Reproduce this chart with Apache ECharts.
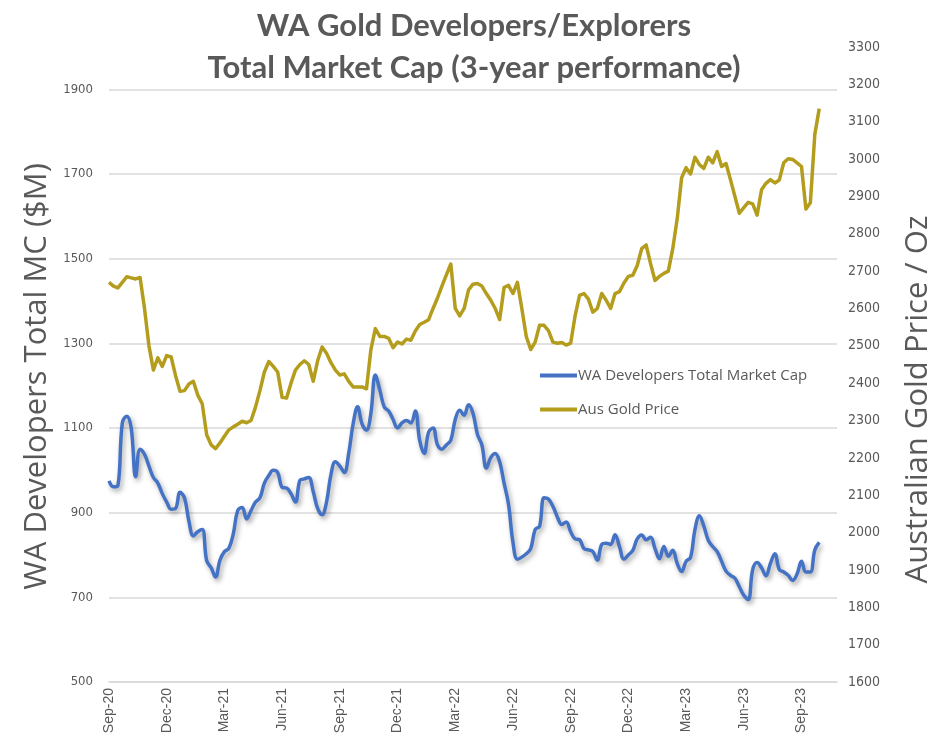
<!DOCTYPE html>
<html>
<head>
<meta charset="utf-8">
<title>WA Gold Developers/Explorers</title>
<script src="https://cdn.jsdelivr.net/npm/echarts@6/dist/echarts.min.js"></script>
<style>
  html, body { margin: 0; padding: 0; background: #fff; }
  #main { width: 948px; height: 740px; }
</style>
</head>
<body>
<div id="main"></div>
<script>
// 坐标轴标签 (每13周一个)
const quarterLabels = ['Sep-20','Dec-20','Mar-21','Jun-21','Sep-21','Dec-21','Mar-22',
  'Jun-22','Sep-22','Dec-22','Mar-23','Jun-23','Sep-23'];

// 周数据: WA developers total market cap ($M)
const waMarketCap = [
  975, 961, 964, 1112, 1128, 1100, 985, 1050, 1038, 1010,
  983, 970, 945, 925, 908, 910, 948, 935, 880, 845,
  855, 860, 787, 770, 748, 788, 808, 816, 850, 905,
  912, 885, 905, 925, 935, 970, 988, 1000, 995, 960,
  958, 945, 925, 976, 980, 983, 950, 910, 895, 925,
  990, 1020, 1010, 995, 1040, 1110, 1150, 1110, 1095, 1135,
  1225, 1190, 1150, 1140, 1120, 1100, 1112, 1118, 1112, 1140,
  1070, 1040, 1090, 1100, 1060, 1050, 1060, 1071, 1120, 1142,
  1130, 1155, 1135, 1085, 1060, 1005, 1030, 1040, 1020, 970,
  920, 830, 790, 795, 803, 815, 860, 868, 935, 932,
  915, 890, 872, 878, 855, 838, 836, 815, 812, 808,
  788, 825, 828, 825, 848, 820, 790, 800, 811, 838,
  847, 836, 842, 815, 791, 820, 797, 811, 780, 761,
  785, 794, 860, 893, 868, 835, 820, 808, 785, 762,
  752, 745, 725, 705, 695, 765, 782, 770, 751, 780,
  803, 766, 760, 752, 740, 755, 785, 760, 760, 812,
  830
];

// 周数据: Aus gold price (A$/oz)
const ausGoldPrice = [
  2670, 2660, 2655, 2670, 2685, 2682, 2679, 2683, 2600, 2500,
  2435, 2468, 2445, 2474, 2470, 2420, 2378, 2380, 2398, 2405,
  2368, 2345, 2262, 2235, 2225, 2240, 2258, 2275, 2283, 2290,
  2298, 2294, 2300, 2336, 2380, 2430, 2458, 2445, 2430, 2362,
  2360, 2400, 2435, 2450, 2460, 2450, 2405, 2460, 2497, 2480,
  2455, 2435, 2422, 2425, 2405, 2390, 2390, 2390, 2385, 2490,
  2546, 2525, 2525, 2520, 2495, 2510, 2505, 2518, 2515, 2540,
  2557, 2563, 2570, 2600, 2628, 2660, 2690, 2719, 2600, 2580,
  2600, 2650, 2665, 2667, 2660, 2640, 2622, 2600, 2570, 2656,
  2662, 2640, 2670, 2600, 2525, 2490, 2510, 2555, 2555, 2541,
  2510, 2507, 2509, 2502, 2507, 2580, 2635, 2640, 2625, 2590,
  2600, 2640, 2622, 2600, 2640, 2645, 2668, 2686, 2689, 2715,
  2760, 2770, 2720, 2675, 2686, 2694, 2700, 2760, 2840, 2950,
  2977, 2960, 3005, 2985, 2975, 3005, 2990, 3020, 2980, 2988,
  2945, 2900, 2855, 2870, 2884, 2880, 2850, 2918, 2935, 2945,
  2936, 2944, 2990, 3001, 2999, 2990, 2980, 2866, 2883, 3066,
  3135
];

// 横轴一直延伸到10月底, 所以多留几周空位
const totalWeeks = 165;
const startDate = new Date(2020, 8, 4);
const weeks = [];
for (let i = 0; i < totalWeeks; i++) {
  let d = new Date(startDate.getTime() + i * 7 * 86400000);
  weeks.push(d.getFullYear() + '/' + (d.getMonth() + 1) + '/' + d.getDate());
}

const textGrey = '#595959';
const tickFont = "'DejaVu Sans Condensed', 'Liberation Sans', sans-serif";
const chart = echarts.init(document.getElementById('main'));

// 不要千位分隔符
function plainNumber(v) {
  return String(v);
}

var option = {
  animation: false,
  title: {
    text: 'WA Gold Developers/Explorers\nTotal Market Cap (3-year performance)',
    left: 'center',
    top: 0,
    textStyle: {
      fontFamily: 'Lato',
      fontWeight: 'bold',
      fontSize: 31,
      lineHeight: 42,
      color: textGrey
    }
  },
  legend: {
    orient: 'vertical',
    left: 535,
    top: 363,
    icon: 'rect',
    itemWidth: 37,
    itemHeight: 4,
    itemGap: 19,
    textStyle: { fontFamily: 'Open Sans', fontSize: 15, color: textGrey, padding: [0, 0, 0, -4] },
    data: ['WA Developers Total Market Cap', 'Aus Gold Price']
  },
  grid: { left: 109, right: 111, top: 47, bottom: 58 },
  xAxis: {
    type: 'category',
    data: weeks,
    boundaryGap: false,
    axisLine: { lineStyle: { color: '#d9d9d9', width: 1.5 } },
    axisTick: { show: false },
    axisLabel: {
      interval: 12,
      rotate: 90,
      margin: 6,
      fontFamily: 'Liberation Sans',
      fontSize: 14,
      color: textGrey,
      formatter: function (value, index) {
        return quarterLabels[Math.round(index / 13)] || '';
      }
    }
  },
  yAxis: [{
    type: 'value',
    min: 500,
    max: 2000,
    interval: 200,
    name: 'WA Developers Total MC ($M)',
    nameLocation: 'middle',
    nameGap: 50,
    // 右侧留白, 让标题往下挪一点
    nameTextStyle: { fontFamily: 'Open Sans', fontSize: 31, color: textGrey, padding: [0, 24, 0, 0] },
    axisLine: { show: false },
    axisTick: { show: false },
    axisLabel: {
      margin: 16,
      showMaxLabel: false,
      fontFamily: tickFont,
      fontSize: 13,
      color: textGrey,
      formatter: plainNumber
    },
    splitLine: { showMaxLine: false, lineStyle: { color: '#d9d9d9', width: 1.5 } }
  }, {
    type: 'value',
    min: 1600,
    max: 3300,
    interval: 100,
    name: 'Australian Gold Price / Oz',
    nameLocation: 'middle',
    nameGap: 66,
    nameRotate: 90,
    nameTextStyle: { fontFamily: 'Open Sans', fontSize: 31, color: textGrey, padding: [0, 70, 0, 0] },
    axisLine: { show: false },
    axisTick: { show: false },
    axisLabel: {
      margin: 11,
      fontFamily: tickFont,
      fontSize: 14,
      color: textGrey,
      formatter: plainNumber
    },
    splitLine: { show: false }
  }],
  series: [{
    name: 'Aus Gold Price',
    type: 'line',
    yAxisIndex: 1,
    data: ausGoldPrice,
    showSymbol: false,
    color: '#B49C1C',
    lineStyle: { width: 3.5, color: '#B49C1C', join: 'round' }
  }, {
    name: 'WA Developers Total Market Cap',
    type: 'line',
    yAxisIndex: 0,
    data: waMarketCap,
    smooth: 0.4,
    showSymbol: false,
    color: '#4472C4',
    lineStyle: {
      width: 3.5,
      color: '#4472C4',
      shadowColor: 'rgba(0,0,0,0.35)',
      shadowBlur: 5,
      shadowOffsetX: 2,
      shadowOffsetY: 3
    }
  }]
};
chart.setOption(option);
</script>
</body>
</html>
